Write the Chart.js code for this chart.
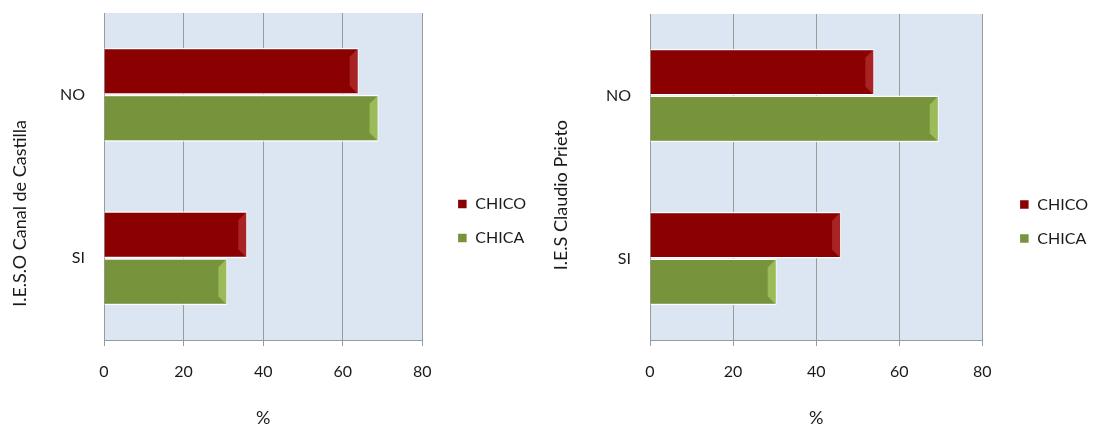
<!DOCTYPE html>
<html>
<head>
<meta charset="utf-8">
<script src="https://cdn.jsdelivr.net/npm/chart.js@4.4.0/dist/chart.umd.min.js"></script>
<style>
body { margin: 0; background: #fff; width: 1095px; height: 429px; overflow: hidden; position: relative; }
.caja { position: absolute; top: 0; height: 429px; }
</style>
</head>
<body>
<div class="caja" style="left:0;width:540px"><canvas id="graficoCanal"></canvas></div>
<div class="caja" style="left:540px;width:555px"><canvas id="graficoClaudio"></canvas></div>
<script>
// datos (%)
var categorias = ['NO', 'SI']
var series = ['CHICO', 'CHICA']
var canal_chico = [64, 36]
var canal_chica = [69, 31]
var claudio_chico = [54, 46]
var claudio_chica = [69.5, 30.5]
var ticks_x = [0, 20, 40, 60, 80]
var titulo_canal = 'I.E.S.O Canal de Castilla'
var titulo_claudio = 'I.E.S Claudio Prieto'
var titulo_x = '%'

var colorChico = '#8b0000'
var colorChica = '#77933c'
var biselChico = '#a82424'
var biselChica = '#9bbb59'
var colorTexto = '#1a1a1a'
var fuente = { family: 'Lato', size: 16 }

Chart.defaults.color = colorTexto

// fondo azul del area de trazado
const fondo = {
    id: 'fondo',
    beforeDraw(chart) {
        const a = chart.chartArea
        const ctx = chart.ctx
        ctx.save()
        ctx.fillStyle = '#dce6f2'
        ctx.fillRect(a.left, a.top, a.right - a.left, a.bottom - a.top)
        ctx.restore()
    }
}

// borde claro al final de cada barra, como en excel
const bisel = {
    id: 'bisel',
    afterDatasetsDraw(chart) {
        const ctx = chart.ctx
        chart.data.datasets.forEach((ds, i) => {
            const meta = chart.getDatasetMeta(i)
            meta.data.forEach(bar => {
                const p = bar.getProps(['x', 'y', 'height'], true)
                const top = p.y - p.height / 2 + 1
                const bottom = p.y + p.height / 2 - 1
                const w = 8
                ctx.save()
                ctx.fillStyle = ds.bisel
                ctx.beginPath()
                ctx.moveTo(p.x - 1, top)
                ctx.lineTo(p.x - 1 - w, top + w)
                ctx.lineTo(p.x - 1 - w, bottom - w)
                ctx.lineTo(p.x - 1, bottom)
                ctx.closePath()
                ctx.fill()
                ctx.restore()
            })
        })
    }
}

// titulo vertical, termina arriba a la misma altura en los dos graficos
const tituloY = {
    id: 'tituloY',
    afterDraw(chart, args, opts) {
        const ctx = chart.ctx
        ctx.save()
        ctx.translate(opts.x, opts.y)
        ctx.rotate(-Math.PI / 2)
        ctx.font = '18px Lato'
        ctx.fillStyle = colorTexto
        ctx.textAlign = 'right'
        ctx.textBaseline = 'middle'
        ctx.fillText(opts.texto, 0, 0)
        ctx.restore()
    }
}

// separar la leyenda del area de trazado
const moverLeyenda = {
    id: 'moverLeyenda',
    afterLayout(chart, args, opts) {
        chart.legend.left += opts.dx
        chart.legend.right += opts.dx
    }
}

function crearGrafico(id, chico, chica, titulo, cfg) {
    var ctx = document.getElementById(id).getContext('2d')
    return new Chart(ctx, {
        type: 'bar',
        data: {
            labels: categorias,
            datasets: [{
                label: series[0],
                data: chico,
                backgroundColor: colorChico,
                bisel: biselChico
            }, {
                label: series[1],
                data: chica,
                backgroundColor: colorChica,
                bisel: biselChica
            }]
        },
        options: {
            indexAxis: 'y',
            responsive: true,
            maintainAspectRatio: false,
            animation: false,
            categoryPercentage: 0.575,
            barPercentage: 1,
            borderColor: '#fff',
            borderWidth: 1.5,
            layout: { padding: { top: cfg.top, right: cfg.padRight, left: 0, bottom: 0 } },
            scales: {
                x: {
                    min: 0,
                    max: 80,
                    afterBuildTicks: s => { s.ticks = ticks_x.map(v => ({ value: v })) },
                    afterFit: s => { s.height = 89 },
                    grid: { color: '#9a9a9a', tickLength: 6 },
                    border: { color: '#9a9a9a' },
                    ticks: { font: fuente, padding: 16, color: colorTexto },
                    title: { display: true, text: titulo_x, font: { family: 'Lato', size: 18 }, padding: 0, color: colorTexto }
                },
                y: {
                    afterFit: s => {
                        s.width = cfg.anchoY
                        s.paddingTop = 0
                        s.paddingBottom = 0
                    },
                    grid: { display: false, drawTicks: false },
                    border: { display: true, color: '#9a9a9a' },
                    ticks: { font: fuente, padding: 19, color: colorTexto }
                }
            },
            plugins: {
                legend: {
                    position: 'right',
                    labels: { font: fuente, boxWidth: 10, boxHeight: 10, padding: 18, color: colorTexto }
                },
                tooltip: { enabled: false },
                tituloY: { texto: titulo, x: cfg.tx, y: 120 },
                moverLeyenda: { dx: cfg.dx }
            }
        },
        plugins: [fondo, bisel, tituloY, moverLeyenda]
    })
}

crearGrafico('graficoCanal', canal_chico, canal_chica, titulo_canal,
    { anchoY: 104, top: 13, padRight: 21, dx: 17, tx: 20 })
crearGrafico('graficoClaudio', claudio_chico, claudio_chica, titulo_claudio,
    { anchoY: 110, top: 14, padRight: 16, dx: 19, tx: 21 })
</script>
</body>
</html>
